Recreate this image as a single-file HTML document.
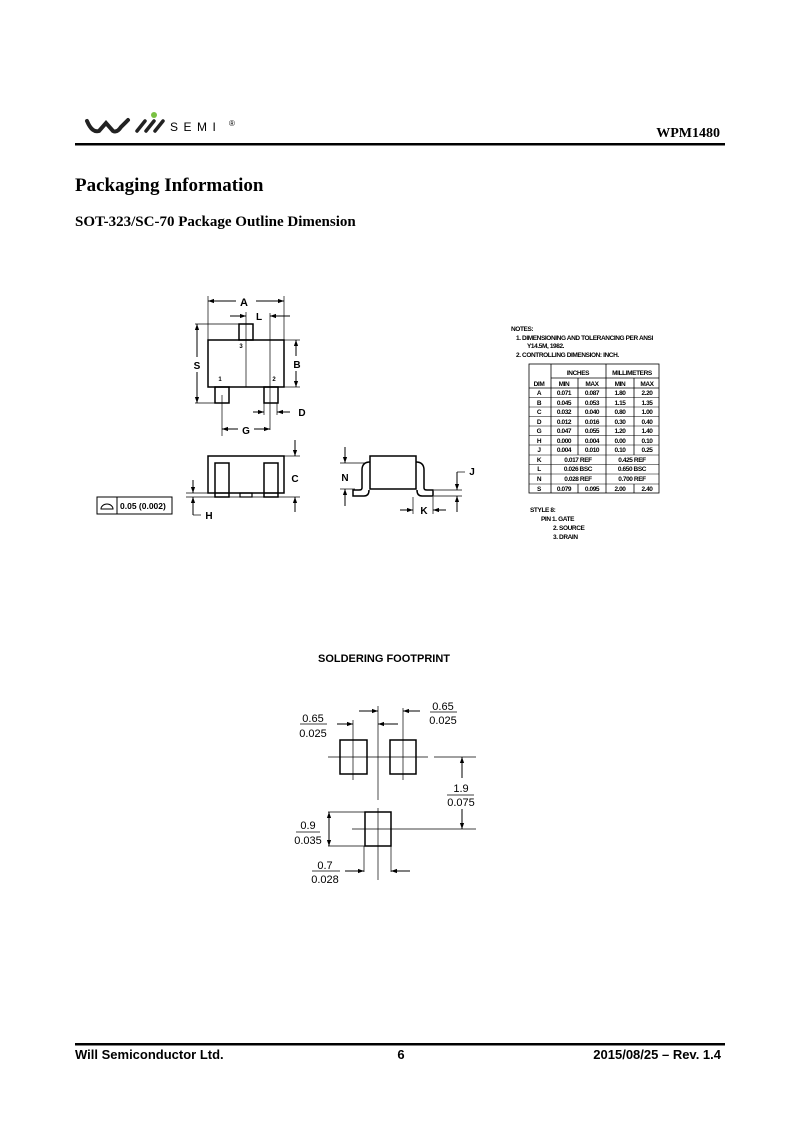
<!DOCTYPE html>
<html><head><meta charset="utf-8"><style>
html,body{margin:0;padding:0;background:#fff;width:800px;height:1132px;overflow:hidden}
svg{display:block}
.t{font-family:"Liberation Serif",serif;font-weight:bold;fill:#000}
.s{font-family:"Liberation Sans",sans-serif;font-weight:bold;fill:#000}
.n{font-family:"Liberation Sans",sans-serif;fill:#000}
</style></head><body>
<svg width="800" height="1132" viewBox="0 0 800 1132" xmlns="http://www.w3.org/2000/svg">
<defs>
<marker id="a" viewBox="0 0 10 10" refX="10" refY="5" markerWidth="6" markerHeight="6" orient="auto-start-reverse"><path d="M0,1.5 L10,5 L0,8.5z" fill="#000"/></marker>
</defs>
<!-- header -->
<path d="M87,121 Q92,133 99,131 L106,123 L113,131 Q117,133 121,127 L128,120" stroke="#222" stroke-width="4" fill="none" stroke-linecap="round"/>
<path d="M137,131 L145,121 M146,131 L154,121 M155,131 L163,121" stroke="#222" stroke-width="3.5" fill="none" stroke-linecap="round"/>
<circle cx="154" cy="115" r="3" fill="#7ac143"/>
<text x="170" y="131" class="n" font-size="12" letter-spacing="5.5">SEMI</text>
<text x="229" y="126" class="n" font-size="8">®</text>
<text x="720" y="137" class="t" font-size="14" text-anchor="end">WPM1480</text>
<rect x="75" y="143" width="650" height="2.5" fill="#000"/>
<text x="75" y="191" class="t" font-size="19">Packaging Information</text>
<text x="75" y="226" class="t" font-size="15">SOT-323/SC-70 Package Outline Dimension</text>

<g stroke="#000" fill="none" stroke-width="1">
<!-- top view -->
<rect x="208" y="340" width="76" height="47" stroke-width="1.5"/>
<rect x="239" y="324" width="14" height="16" stroke-width="1.5"/>
<rect x="215" y="387" width="14" height="16" stroke-width="1.5"/>
<rect x="264" y="387" width="14" height="16" stroke-width="1.5"/>
<line x1="208" y1="296" x2="208" y2="340" stroke-width="0.7"/>
<line x1="284" y1="296" x2="284" y2="340" stroke-width="0.7"/>
<line x1="208" y1="301" x2="236" y2="301" marker-start="url(#a)"/>
<line x1="256" y1="301" x2="284" y2="301" marker-end="url(#a)"/>
<line x1="246" y1="312" x2="246" y2="387" stroke-width="0.7"/>
<line x1="270" y1="313" x2="270" y2="430" stroke-width="0.7"/>
<line x1="230" y1="316" x2="246" y2="316" marker-end="url(#a)"/>
<line x1="290" y1="316" x2="270" y2="316" marker-end="url(#a)"/>
<line x1="195" y1="324" x2="240" y2="324" stroke-width="0.7"/>
<line x1="195" y1="403" x2="215" y2="403" stroke-width="0.7"/>
<line x1="197" y1="324" x2="197" y2="357" marker-start="url(#a)"/>
<line x1="197" y1="372" x2="197" y2="403" marker-end="url(#a)"/>
<line x1="284" y1="340" x2="300" y2="340" stroke-width="0.7"/>
<line x1="284" y1="387" x2="300" y2="387" stroke-width="0.7"/>
<line x1="296" y1="340" x2="296" y2="356" marker-start="url(#a)"/>
<line x1="296" y1="371" x2="296" y2="387" marker-end="url(#a)"/>
<line x1="264" y1="403" x2="264" y2="415" stroke-width="0.7"/>
<line x1="277" y1="403" x2="277" y2="415" stroke-width="0.7"/>
<line x1="253" y1="412" x2="264" y2="412" marker-end="url(#a)"/>
<line x1="290" y1="412" x2="277" y2="412" marker-end="url(#a)"/>
<line x1="222" y1="395" x2="222" y2="436" stroke-width="0.7"/>
<line x1="222" y1="429" x2="238" y2="429" marker-start="url(#a)"/>
<line x1="254" y1="429" x2="270" y2="429" marker-end="url(#a)"/>
<!-- front view -->
<rect x="208" y="456" width="76" height="37" stroke-width="1.5"/>
<rect x="215" y="463" width="14" height="34" stroke-width="1.5"/>
<rect x="264" y="463" width="14" height="34" stroke-width="1.5"/>
<rect x="240" y="493" width="12" height="4" stroke-width="1.2"/>
<line x1="215" y1="493" x2="229" y2="493" stroke-width="1.2"/>
<line x1="264" y1="493" x2="278" y2="493" stroke-width="1.2"/>
<line x1="186" y1="497" x2="300" y2="497" stroke-width="0.7"/>
<line x1="186" y1="493" x2="208" y2="493" stroke-width="0.7"/>
<line x1="284" y1="456" x2="300" y2="456" stroke-width="0.7"/>
<line x1="295" y1="440" x2="295" y2="456" marker-end="url(#a)"/>
<line x1="295" y1="512" x2="295" y2="497" marker-end="url(#a)"/>
<line x1="193" y1="480" x2="193" y2="493" marker-end="url(#a)"/>
<line x1="193" y1="515" x2="193" y2="497" marker-end="url(#a)"/>
<line x1="193" y1="515" x2="201" y2="515" stroke-width="0.7"/>
<rect x="97" y="497" width="75" height="17"/>
<line x1="117" y1="497" x2="117" y2="514"/>
<path d="M101,509 A6,5 0 0 1 113,509 Z"/>
<!-- side view -->
<rect x="370" y="456" width="46" height="33" stroke-width="1.5"/>
<path d="M370,462 Q362,462 362,470 L362,488 Q362,490 359,490 L353,490 L353,496 L364,496 Q369,496 369,490" stroke-width="1.5"/>
<path d="M416,462 Q424,462 424,470 L424,488 Q424,490 427,490 L433,490 L433,496 L422,496 Q417,496 417,490" stroke-width="1.5"/>
<line x1="340" y1="463" x2="365" y2="463" stroke-width="0.7"/>
<line x1="340" y1="489" x2="355" y2="489" stroke-width="0.7"/>
<line x1="345" y1="447" x2="345" y2="463" marker-end="url(#a)"/>
<line x1="345" y1="506" x2="345" y2="489" marker-end="url(#a)"/>
<line x1="434" y1="490" x2="462" y2="490" stroke-width="0.7"/>
<line x1="434" y1="496" x2="462" y2="496" stroke-width="0.7"/>
<line x1="457" y1="472" x2="457" y2="490" marker-end="url(#a)"/>
<line x1="457" y1="512" x2="457" y2="496" marker-end="url(#a)"/>
<line x1="457" y1="472" x2="465" y2="472" stroke-width="0.7"/>
<line x1="413" y1="497" x2="413" y2="514" stroke-width="0.7"/>
<line x1="433" y1="497" x2="433" y2="514" stroke-width="0.7"/>
<line x1="400" y1="510" x2="413" y2="510" marker-end="url(#a)"/>
<line x1="446" y1="510" x2="433" y2="510" marker-end="url(#a)"/>
</g>
<g class="s" font-size="10">
<text x="244" y="306" text-anchor="middle" font-size="11">A</text>
<text x="259" y="320" text-anchor="middle">L</text>
<text x="197" y="369" text-anchor="middle">S</text>
<text x="297" y="368" text-anchor="middle">B</text>
<text x="302" y="416" text-anchor="middle">D</text>
<text x="246" y="434" text-anchor="middle">G</text>
<text x="295" y="482" text-anchor="middle">C</text>
<text x="209" y="519" text-anchor="middle">H</text>
<text x="345" y="481" text-anchor="middle">N</text>
<text x="472" y="475" text-anchor="middle">J</text>
<text x="424" y="514" text-anchor="middle">K</text>
<text x="241" y="348" text-anchor="middle" font-size="6">3</text>
<text x="220" y="381" text-anchor="middle" font-size="6">1</text>
<text x="274" y="381" text-anchor="middle" font-size="6">2</text>
<text x="120" y="509" font-size="8.5">0.05 (0.002)</text>
</g>
<!-- notes -->
<g class="s" font-size="6.5" letter-spacing="-0.4">
<text x="511" y="331">NOTES:</text>
<text x="516" y="340">1.  DIMENSIONING AND TOLERANCING PER ANSI</text>
<text x="527" y="348">Y14.5M, 1982.</text>
<text x="516" y="357">2.  CONTROLLING DIMENSION: INCH.</text>
<text x="530" y="512">STYLE 8:</text>
<text x="541" y="521">PIN 1.  GATE</text>
<text x="553" y="530">2.  SOURCE</text>
<text x="553" y="539">3.  DRAIN</text>
</g>
<g stroke="#000" stroke-width="0.8" fill="none">
<rect x="529" y="364" width="130" height="129"/>
<line x1="551" y1="378" x2="659" y2="378"/>
<line x1="529" y1="388" x2="659" y2="388"/>
<line x1="551" y1="364" x2="551" y2="493"/>
<line x1="606" y1="364" x2="606" y2="493"/>
<line x1="578" y1="378" x2="578" y2="455"/><line x1="578" y1="484" x2="578" y2="493"/>
<line x1="634" y1="378" x2="634" y2="455"/><line x1="634" y1="484" x2="634" y2="493"/>
<path d="M529,397.5H659M529,407H659M529,416.5H659M529,426H659M529,435.5H659M529,445H659M529,455H659M529,464.5H659M529,474H659M529,484H659" stroke-width="0.5"/>
</g>
<g class="s" font-size="6.5" text-anchor="middle" letter-spacing="-0.4">
<text x="578" y="375">INCHES</text><text x="632" y="375">MILLIMETERS</text>
<text x="539" y="386">DIM</text><text x="564" y="386">MIN</text><text x="592" y="386">MAX</text><text x="620" y="386">MIN</text><text x="647" y="386">MAX</text>
<text x="539" y="395">A</text><text x="564" y="395">0.071</text><text x="592" y="395">0.087</text><text x="620" y="395">1.80</text><text x="647" y="395">2.20</text>
<text x="539" y="405">B</text><text x="564" y="405">0.045</text><text x="592" y="405">0.053</text><text x="620" y="405">1.15</text><text x="647" y="405">1.35</text>
<text x="539" y="414">C</text><text x="564" y="414">0.032</text><text x="592" y="414">0.040</text><text x="620" y="414">0.80</text><text x="647" y="414">1.00</text>
<text x="539" y="424">D</text><text x="564" y="424">0.012</text><text x="592" y="424">0.016</text><text x="620" y="424">0.30</text><text x="647" y="424">0.40</text>
<text x="539" y="433">G</text><text x="564" y="433">0.047</text><text x="592" y="433">0.055</text><text x="620" y="433">1.20</text><text x="647" y="433">1.40</text>
<text x="539" y="443">H</text><text x="564" y="443">0.000</text><text x="592" y="443">0.004</text><text x="620" y="443">0.00</text><text x="647" y="443">0.10</text>
<text x="539" y="452">J</text><text x="564" y="452">0.004</text><text x="592" y="452">0.010</text><text x="620" y="452">0.10</text><text x="647" y="452">0.25</text>
<text x="539" y="462">K</text><text x="578" y="462">0.017 REF</text><text x="632" y="462">0.425 REF</text>
<text x="539" y="471">L</text><text x="578" y="471">0.026 BSC</text><text x="632" y="471">0.650 BSC</text>
<text x="539" y="481">N</text><text x="578" y="481">0.028 REF</text><text x="632" y="481">0.700 REF</text>
<text x="539" y="491">S</text><text x="564" y="491">0.079</text><text x="592" y="491">0.095</text><text x="620" y="491">2.00</text><text x="647" y="491">2.40</text>
</g>
<!-- footprint -->
<text x="384" y="662" class="s" font-size="11" text-anchor="middle">SOLDERING FOOTPRINT</text>
<g stroke="#000" fill="none" stroke-width="1">
<rect x="340" y="740" width="27" height="34" stroke-width="1.5"/>
<rect x="390" y="740" width="26" height="34" stroke-width="1.5"/>
<rect x="365" y="812" width="26" height="34" stroke-width="1.5"/>
<line x1="378" y1="706" x2="378" y2="800" stroke-width="0.7"/>
<line x1="378" y1="808" x2="378" y2="880" stroke-width="0.7"/>
<line x1="353" y1="720" x2="353" y2="780" stroke-width="0.7"/>
<line x1="403" y1="708" x2="403" y2="780" stroke-width="0.7"/>
<line x1="328" y1="757" x2="428" y2="757" stroke-width="0.7"/>
<line x1="434" y1="757" x2="476" y2="757" stroke-width="0.7"/>
<line x1="352" y1="829" x2="476" y2="829" stroke-width="0.7"/>
<line x1="328" y1="812" x2="365" y2="812" stroke-width="0.7"/>
<line x1="328" y1="846" x2="365" y2="846" stroke-width="0.7"/>
<line x1="364" y1="846" x2="364" y2="872" stroke-width="0.7"/>
<line x1="391" y1="846" x2="391" y2="872" stroke-width="0.7"/>
<line x1="337" y1="724" x2="353" y2="724" marker-end="url(#a)"/>
<line x1="398" y1="724" x2="378" y2="724" marker-end="url(#a)"/>
<line x1="359" y1="711" x2="378" y2="711" marker-end="url(#a)"/>
<line x1="420" y1="711" x2="403" y2="711" marker-end="url(#a)"/>
<line x1="462" y1="778" x2="462" y2="757" marker-end="url(#a)"/>
<line x1="462" y1="809" x2="462" y2="829" marker-end="url(#a)"/>
<line x1="329" y1="812" x2="329" y2="846" marker-start="url(#a)" marker-end="url(#a)"/>
<line x1="345" y1="871" x2="364" y2="871" marker-end="url(#a)"/>
<line x1="410" y1="871" x2="391" y2="871" marker-end="url(#a)"/>
<g stroke-width="0.8">
<line x1="300" y1="724" x2="327" y2="724"/>
<line x1="430" y1="712" x2="457" y2="712"/>
<line x1="447" y1="795" x2="474" y2="795"/>
<line x1="296" y1="832" x2="320" y2="832"/>
<line x1="312" y1="871" x2="340" y2="871"/>
</g>
</g>
<g class="n" font-size="11" text-anchor="middle">
<text x="313" y="722">0.65</text><text x="313" y="737">0.025</text>
<text x="443" y="710">0.65</text><text x="443" y="724">0.025</text>
<text x="461" y="792">1.9</text><text x="461" y="806">0.075</text>
<text x="308" y="829">0.9</text><text x="308" y="844">0.035</text>
<text x="325" y="869">0.7</text><text x="325" y="883">0.028</text>
</g>
<!-- footer -->
<rect x="75" y="1043" width="650" height="2.5" fill="#000"/>
<text x="75" y="1059" class="s" font-size="13">Will Semiconductor Ltd.</text>
<text x="401" y="1059" class="s" font-size="13" text-anchor="middle">6</text>
<text x="721" y="1059" class="s" font-size="13" text-anchor="end">2015/08/25 – Rev. 1.4</text>
</svg>
</body></html>
